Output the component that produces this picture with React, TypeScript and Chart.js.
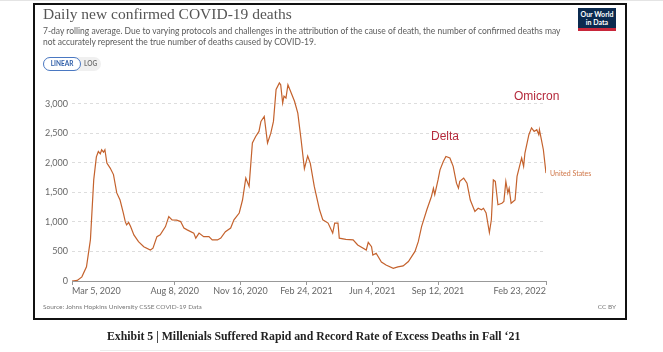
import React, { useEffect, useRef } from "react";
import { Chart, registerables } from "chart.js";

Chart.register(...registerables);

// Days since Mar 5, 2020
const dayIndex = [
  0, 8, 15, 22, 28, 33, 37, 40, 43, 45, 48, 50, 53, 58, 63, 68, 73, 78, 81, 83, 86, 89, 94, 101, 109, 119, 123,
  129, 134, 142, 147, 152, 159, 165, 170, 175, 185, 188, 193, 200, 208, 213, 221, 226, 233, 241, 246, 254, 259,
  264, 269, 274, 279, 284, 287, 292, 297, 302, 306, 310, 315, 317, 320, 322, 325, 328, 333, 338, 343, 348, 353,
  358, 362, 368, 376, 381, 389, 396, 399, 404, 406, 416, 427, 434, 447, 450, 455, 457, 462, 470, 477, 488, 495,
  503, 511, 521, 526, 531, 539, 546, 549, 551, 556, 559, 564, 568, 574, 579, 584, 587, 589, 595, 600, 605, 610,
  612, 617, 622, 625, 629, 634, 637, 640, 643, 647, 653, 656, 659, 662, 664, 667, 673, 676, 681, 683, 686, 688,
  694, 698, 702, 706, 709, 710, 713, 716, 720,
];

const deaths = [
  0, 10, 70, 240, 700, 1710, 2100, 2190, 2150, 2220, 2180, 2220, 1995, 1910, 1800, 1490, 1370, 1150, 1000, 950,
  990, 920, 780, 665, 580, 525, 555, 750, 780, 920, 1090, 1035, 1030, 1005, 895, 865, 810, 725, 810, 750, 750,
  695, 695, 725, 835, 895, 1035, 1150, 1370, 1740, 1600, 2335, 2445, 2530, 2700, 2785, 2335, 2500, 2700, 3240,
  3350, 3320, 3010, 3125, 3095, 3320, 3180, 3040, 2840, 2390, 1900, 2115, 1990, 1600, 1205, 1035, 980, 810, 980,
  980, 725, 705, 695, 610, 525, 655, 580, 440, 470, 320, 270, 215, 240, 255, 330, 500, 665, 920, 1205, 1430,
  1570, 1460, 1710, 1880, 2020, 2105, 2080, 1940, 1655, 1570, 1685, 1740, 1655, 1370, 1230, 1175, 1230, 1205,
  1230, 1150, 820, 1035, 1710, 1685, 1290, 1315, 1345, 1685, 1490, 1570, 1315, 1370, 1770, 1995, 2080, 1940,
  2165, 2475, 2590, 2530, 2560, 2475, 2560, 2390, 2220, 1825,
];

const tickDays = [0, 156, 256, 356, 456, 556, 720];
const tickLabels = ["Mar 5, 2020", "Aug 8, 2020", "Nov 16, 2020", "Feb 24, 2021", "Jun 4, 2021", "Sep 12, 2021", "Feb 23, 2022"];
const yTicks = [0, 500, 1000, 1500, 2000, 2500, 3000];
const seriesName = "United States";

const LINE = "#c4622d";

export default function App() {
  const ref = useRef<HTMLCanvasElement>(null);

  useEffect(() => {
    document.body.style.margin = "0";
    const canvas = ref.current!;
    const labelPlugin = {
      id: "owidLabels",
      afterDraw(chart: any) {
        const ctx = chart.ctx;
        const xs = chart.scales.x;
        const ys = chart.scales.y;
        ctx.save();
        ctx.font = "9px Lato";
        ctx.fillStyle = "#666";
        ctx.textBaseline = "middle";
        const yy = chart.chartArea.bottom + 10;
        tickDays.forEach((d, i) => {
          const px = xs.getPixelForValue(d);
          ctx.textAlign = i === 0 ? "left" : i === tickDays.length - 1 ? "right" : "center";
          ctx.fillText(tickLabels[i], px, yy);
        });
        const last = deaths.length - 1;
        ctx.font = "7px Lato";
        ctx.fillStyle = "#d0784a";
        ctx.textAlign = "left";
        ctx.fillText(seriesName, xs.getPixelForValue(dayIndex[last]) + 4, ys.getPixelForValue(deaths[last]) + 1);
        ctx.restore();
      },
    };
    const chart = new Chart(canvas, {
      type: "line",
      data: {
        datasets: [
          {
            label: seriesName,
            data: dayIndex.map((d, i) => ({ x: d, y: deaths[i] })),
            borderColor: LINE,
            borderWidth: 1.2,
            pointRadius: 0,
            tension: 0,
            fill: false,
          },
        ],
      },
      options: {
        animation: false,
        responsive: false,
        maintainAspectRatio: false,
        events: [],
        layout: { padding: { left: 32, right: 117, top: 80, bottom: 61 } },
        plugins: { legend: { display: false }, tooltip: { enabled: false } },
        scales: {
          x: {
            type: "linear",
            min: 0,
            max: 720,
            afterFit: (s: any) => {
              s.height = 10;
            },
            afterBuildTicks: (s: any) => {
              s.ticks = tickDays.map((v) => ({ value: v }));
            },
            ticks: { display: false },
            grid: { display: true, drawOnChartArea: false, drawTicks: true, tickLength: 4, color: "#999" },
            border: { display: true, color: "#999", width: 1 },
          },
          y: {
            min: 0,
            max: 3400,
            afterFit: (s: any) => {
              s.width = 40;
            },
            afterBuildTicks: (s: any) => {
              s.ticks = yTicks.map((v) => ({ value: v }));
            },
            ticks: {
              padding: 4,
              color: "#666",
              font: { family: "Lato", size: 9 },
              callback: (v: any) => Number(v).toLocaleString("en-US"),
            },
            grid: {
              drawTicks: false,
              color: (c: any) => (c.tick && c.tick.value === 0 ? "rgba(0,0,0,0)" : "#dddddd"),
            },
            border: { display: false, dash: [3, 3] },
          },
        },
      },
      plugins: [labelPlugin],
    });
    return () => chart.destroy();
  }, []);

  const abs = (s: React.CSSProperties): React.CSSProperties => ({ position: "absolute", ...s });

  return (
    <div style={{ position: "relative", width: 663, height: 352, overflow: "hidden", background: "#fff" }}>
      <div style={abs({ left: 0, top: 0, width: 663, height: 1, background: "#e4e4e4" })} />
      <div style={abs({ left: 33, top: 3, width: 590, height: 313, border: "2px solid #111" })} />
      <canvas ref={ref} width={663} height={352} style={abs({ left: 0, top: 0 })} />
      <div
        style={abs({
          left: 43,
          top: 5,
          fontFamily: "'Liberation Serif', serif",
          fontSize: 15.5,
          lineHeight: "18px",
          color: "#555",
          whiteSpace: "nowrap",
        })}
      >
        Daily new confirmed COVID-19 deaths
      </div>
      <div
        style={abs({
          left: 43,
          top: 26,
          fontFamily: "Lato",
          fontSize: 8.5,
          lineHeight: "11px",
          color: "#5b5b5b",
          whiteSpace: "nowrap",
        })}
      >
        7-day rolling average. Due to varying protocols and challenges in the attribution of the cause of death, the number of confirmed deaths may
        <br />
        not accurately represent the true number of deaths caused by COVID-19.
      </div>
      <div
        style={abs({
          left: 43,
          top: 57,
          width: 58,
          height: 14,
          borderRadius: 7,
          background: "#f0f0f0",
          fontFamily: "Lato",
          fontSize: 6.5,
          fontWeight: 700,
        })}
      >
        <div
          style={abs({
            left: 0,
            top: 0,
            width: 36,
            height: 12,
            border: "1px solid #4a78c2",
            borderRadius: 7,
            background: "#fff",
            color: "#2f5ea8",
            textAlign: "center",
            lineHeight: "12px",
          })}
        >
          LINEAR
        </div>
        <div style={abs({ left: 41, top: 0, lineHeight: "14px", color: "#777" })}>LOG</div>
      </div>
      <div
        style={abs({
          left: 578,
          top: 8,
          width: 38,
          height: 20,
          background: "#0b2a4f",
          color: "#fff",
          fontFamily: "Lato",
          fontWeight: 700,
          fontSize: 7,
          lineHeight: "8px",
          textAlign: "center",
          paddingTop: 2,
          boxSizing: "border-box",
        })}
      >
        Our World
        <br />
        in Data
      </div>
      <div style={abs({ left: 578, top: 28, width: 38, height: 3, background: "#c8263a" })} />
      <div style={abs({ left: 431, top: 129, fontFamily: "'Liberation Sans', Arial", fontSize: 12, color: "#b52a3c" })}>Delta</div>
      <div style={abs({ left: 514, top: 89, fontFamily: "'Liberation Sans', Arial", fontSize: 12, color: "#b52a3c" })}>Omicron</div>
      <div style={abs({ left: 43, top: 303, fontFamily: "Lato", fontSize: 6.5, color: "#777", whiteSpace: "nowrap" })}>
        Source: Johns Hopkins University CSSE COVID-19 Data
      </div>
      <div style={abs({ left: 596, top: 303, width: 20, textAlign: "right", fontFamily: "Lato", fontSize: 6.5, color: "#777", whiteSpace: "nowrap" })}>
        CC BY
      </div>
      <div
        style={abs({
          left: 107,
          top: 329,
          fontFamily: "'Liberation Serif', serif",
          fontWeight: 700,
          fontSize: 11.8,
          color: "#222",
          whiteSpace: "nowrap",
        })}
      >
        Exhibit 5 | Millenials Suffered Rapid and Record Rate of Excess Deaths in Fall ‘21
      </div>
      <div style={abs({ left: 100, top: 350, width: 340, height: 1, background: "#ececec" })} />
    </div>
  );
}
